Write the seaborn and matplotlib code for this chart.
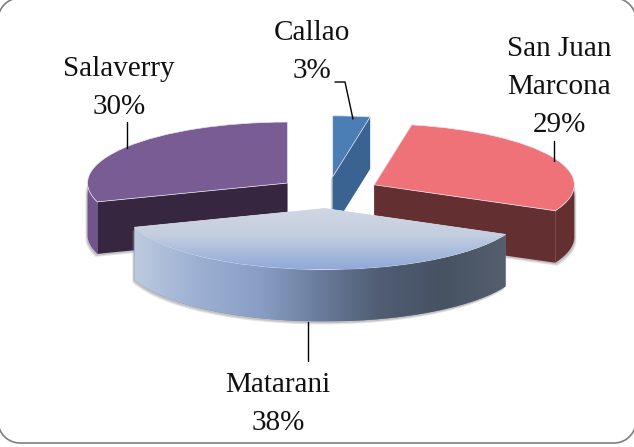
import numpy as np
import seaborn as sns
import matplotlib.pyplot as plt
from matplotlib.colors import LinearSegmentedColormap
from matplotlib.patches import Polygon

names = ["Callao", "San Juan\nMarcona", "Matarani", "Salaverry"]
values = [3, 29, 38, 30]

sns.set_theme(style="white", font="Liberation Serif")

top_colors = sns.color_palette(["#4A7EB4", "#EE7278", "#A9BBDA", "#7A5C95"])
cut_colors = sns.color_palette(["#3A6392", "#642F30", "#4A5668", "#37263F"])
arc_colors = sns.color_palette(["#3A6392", "#642F30", "#6A7C9B", "#70548B"])

W, H = 634, 447
CX, CY = 328, 192   # pie centre in pixels
RX, RY = 200, 61    # squashed radius in pixels
DEPTH = 52 / RY     # thickness of the slices

fig = plt.figure(figsize=(W / 100, H / 100), dpi=100, facecolor="white")

ax = fig.add_axes([0, 0, 1, 1], zorder=1)
wedges, _ = ax.pie(values, explode=[0.25, 0.26, 0.27, 0.25], startangle=90, counterclock=False,
                   colors=top_colors,
                   wedgeprops=dict(edgecolor="#E8E8EE", linewidth=0.5))
ax.set_aspect("auto")


def arc(w, a, b):
    t = np.radians(np.linspace(a, b, 80))
    return np.column_stack([w.center[0] + w.r * np.cos(t), w.center[1] + w.r * np.sin(t)])


def extrude(pts):
    low = pts[::-1] - [0, DEPTH]
    return np.vstack([pts, low])


def cut_face(w, angle):
    t = np.radians(angle)
    rim = [w.center[0] + w.r * np.cos(t), w.center[1] + w.r * np.sin(t)]
    return extrude(np.array([w.center, rim]))


def outer_side(w):
    # only the part of the rim that faces the viewer
    start = w.theta1 % 360
    end = start + (w.theta2 - w.theta1)
    angles = np.linspace(start, end, 200)
    angles = angles[np.sin(np.radians(angles)) < 0]
    if len(angles) == 0:
        return None
    return extrude(arc(w, angles[0], angles[-1]))


def shadow(pts, z, dx=-2, dy=-3):
    for k, alpha in ((1.0, 0.25), (0.6, 0.35)):
        off = pts + [k * dx / RX, k * dy / RY]
        ax.add_patch(Polygon(off, closed=True, fc="#8A8A8A", ec="none", alpha=alpha, zorder=z))


# back to front
order = {3: 2, 0: 6, 1: 10, 2: 14}
side_patches = {}
for i, z in order.items():
    w = wedges[i]
    w.set_zorder(z + 3)
    side = outer_side(w)
    if i != 2:
        for angle in (w.theta1, w.theta2):
            face = cut_face(w, angle)
            shadow(face, z, dx=-2 if i != 1 else 2)
            ax.add_patch(Polygon(face, closed=True, fc=cut_colors[i], ec="none", zorder=z + 1))
    if side is not None:
        shadow(side, z, dx=-2 if i != 1 else 2)
        p = Polygon(side, closed=True, fc=arc_colors[i], ec="none", zorder=z + 2)
        ax.add_patch(p)
        side_patches[i] = (p, side)

# Matarani gets gradients, top goes light to blue downward, rim goes light to dark rightward
w = wedges[2]
x0, x1 = side_patches[2][1][:, 0].min(), side_patches[2][1][:, 0].max()
y_top = w.center[1] + 0.1
y_bot = w.center[1] - w.r
top_cmap = LinearSegmentedColormap.from_list("mt", ["#D3D9E5", "#C4CEE0", "#8FA9D8"])
rim_cmap = LinearSegmentedColormap.from_list(
    "mr", ["#BDCADF", "#9DB0D3", "#8A9FC6", "#6A7C9B", "#4F5C72", "#475263", "#555F6E"])
im = ax.imshow(np.linspace(0, 1, 256)[:, None], cmap=top_cmap, aspect="auto",
               extent=(x0, x1, y_bot, y_top), zorder=18)
im.set_clip_path(w)
w.set_zorder(17)
im2 = ax.imshow(np.linspace(0, 1, 256)[None, :], cmap=rim_cmap, aspect="auto",
                extent=(x0, x1, y_bot - DEPTH, y_top), zorder=16.5)
im2.set_clip_path(side_patches[2][0])

ax.set_xlim(-CX / RX, (W - CX) / RX)
ax.set_ylim((CY - H) / RY, CY / RY)
ax.axis("off")

# frame, labels and leader lines in pixel coordinates
ov = fig.add_axes([0, 0, 1, 1], zorder=2)
ov.set_xlim(0, W)
ov.set_ylim(H, 0)
ov.axis("off")

# the frame runs past the image on three sides, only the corners and bottom line show
left, right, top, bottom, rad = -2, 636, -2, 443, 22
corners = [(right - rad, bottom - rad, 0), (left + rad, bottom - rad, 90),
           (left + rad, top + rad, 180), (right - rad, top + rad, 270)]
fx, fy = [], []
for ccx, ccy, start in corners:
    t = np.radians(np.linspace(start, start + 90, 30))
    fx.extend(ccx + rad * np.cos(t))
    fy.extend(ccy + rad * np.sin(t))
ov.plot(fx + fx[:1], fy + fy[:1], color="#7F7F7F", lw=1.2)

label_pos = [(312, 52), (559, 87), (278, 404), (119, 88)]
for name, v, (x, y) in zip(names, values, label_pos):
    ov.text(x, y, f"{name}\n{v}%", ha="center", va="center", fontsize=21,
            color="#111111", linespacing=1.58)

leaders = [([335, 345, 353], [82, 82, 119]), ([554, 554], [141, 161]),
           ([308, 308], [322, 361]), ([127, 127], [122, 148])]
for xs, ys in leaders:
    ov.plot(xs, ys, color="black", lw=1)

ov.set_xlim(0, W)
ov.set_ylim(H, 0)

fig.savefig("out.png", dpi=100)
